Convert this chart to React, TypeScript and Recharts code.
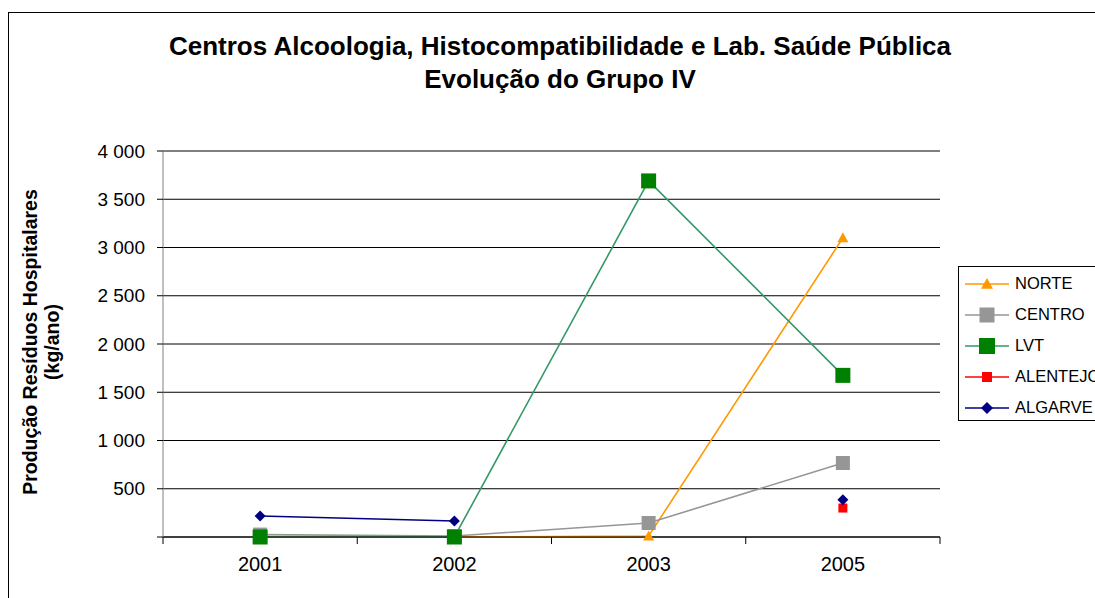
import React from 'react'
import { LineChart, Line, XAxis, YAxis, CartesianGrid } from 'recharts'

const years = ['2001', '2002', '2003', '2005']
const norte = [0, 0, 10, 3100]
const centro = [25, 10, 145, 767]
const lvt = [0, 0, 3690, 1675]
const alentejo = [null, null, null, 300]
const algarve = [218, 166, null, 385]
const yTicks = [0, 500, 1000, 1500, 2000, 2500, 3000, 3500, 4000]

const data = years.map((year, i) => ({
  year,
  norte: norte[i],
  centro: centro[i],
  lvt: lvt[i],
  alentejo: alentejo[i],
  algarve: algarve[i],
}))

const FONT = '"Liberation Sans", Arial, sans-serif'
const PLOT_W = 777
const BAND = PLOT_W / years.length

const series = [
  { key: 'norte', name: 'NORTE', line: '#FF9900', fill: '#FF9900', shape: 'triangle', size: 11 },
  { key: 'centro', name: 'CENTRO', line: '#969696', fill: '#969696', shape: 'square', size: 14 },
  { key: 'lvt', name: 'LVT', line: '#339966', fill: '#008000', shape: 'square', size: 15 },
  { key: 'alentejo', name: 'ALENTEJO', line: '#FF0000', fill: '#FF0000', shape: 'square', size: 9 },
  { key: 'algarve', name: 'ALGARVE', line: '#000080', fill: '#000080', shape: 'diamond', size: 11 },
]

function Marker({ cx, cy, shape, size, fill }: any) {
  if (cx == null || cy == null) return null
  const h = size / 2
  if (shape === 'triangle') {
    return <polygon points={`${cx},${cy - h} ${cx + h},${cy + h * 0.8} ${cx - h},${cy + h * 0.8}`} fill={fill} />
  }
  if (shape === 'diamond') {
    return <polygon points={`${cx},${cy - h} ${cx + h},${cy} ${cx},${cy + h} ${cx - h},${cy}`} fill={fill} />
  }
  return <rect x={cx - h} y={cy - h} width={size} height={size} fill={fill} />
}

const fmt = (v: number) => (v === 0 ? '' : v >= 1000 ? `${Math.floor(v / 1000)} ${String(v % 1000).padStart(3, '0')}` : String(v))

function YearTick({ x, y, payload, index }: any) {
  const half = BAND / 2
  return (
    <g>
      <line x1={x - half} x2={x - half} y1={y} y2={y + 7} stroke="#000" />
      {index === years.length - 1 && <line x1={x + half} x2={x + half} y1={y} y2={y + 7} stroke="#000" />}
      <text x={x} y={y + 34} textAnchor="middle" fontFamily={FONT} fontSize={20} fill="#000">
        {payload.value}
      </text>
    </g>
  )
}

function LegendIcon({ s }: any) {
  return (
    <svg width={48} height={20} style={{ display: 'block' }}>
      <line x1={2} x2={46} y1={10} y2={10} stroke={s.line} strokeWidth={1.5} />
      <Marker cx={24} cy={10} shape={s.shape} size={s.shape === 'square' ? Math.min(s.size + 1, 16) : s.size + 1} fill={s.fill} />
    </svg>
  )
}

export default function App() {
  return (
    <div style={{ position: 'absolute', left: 0, top: 0, width: 1095, height: 598, overflow: 'hidden', background: '#fff' }}>
      <div style={{ position: 'absolute', left: 8, top: 12, width: 1200, height: 700, border: '1px solid #000' }} />
      <div
        style={{
          position: 'absolute',
          left: 0,
          top: 30,
          width: 1120,
          textAlign: 'center',
          fontFamily: FONT,
          fontWeight: 'bold',
          fontSize: 26,
          lineHeight: '33px',
        }}
      >
        <div>Centros Alcoologia, Histocompatibilidade e Lab. Saúde Pública</div>
        <div>Evolução do Grupo IV</div>
      </div>
      <div
        style={{
          position: 'absolute',
          left: 41,
          top: 342,
          transform: 'translate(-50%, -50%) rotate(-90deg)',
          whiteSpace: 'nowrap',
          textAlign: 'center',
          fontFamily: FONT,
          fontWeight: 'bold',
          fontSize: 19.5,
          lineHeight: '22px',
        }}
      >
        <div>Produção Resíduos Hospitalares</div>
        <div>(kg/ano)</div>
      </div>
      <div style={{ position: 'absolute', left: 0, top: 0 }}>
        <LineChart width={1095} height={598} data={data} margin={{ top: 151, right: 155, bottom: 31, left: 103 }}>
          <CartesianGrid horizontal vertical={false} stroke="#000" strokeWidth={1} />
          <XAxis
            dataKey="year"
            scale="band"
            height={30}
            axisLine={{ stroke: '#000' }}
            tickLine={false}
            tickSize={0}
            tickMargin={0}
            tick={<YearTick />}
            interval={0}
          />
          <XAxis xAxisId="top" dataKey="year" scale="band" orientation="top" height={0} tick={false} tickLine={false} axisLine={{ stroke: '#808080' }} />
          <YAxis
            domain={[0, 4000]}
            ticks={yTicks}
            width={60}
            interval={0}
            tickFormatter={fmt}
            axisLine={{ stroke: '#808080' }}
            tickLine={{ stroke: '#000' }}
            tickSize={6}
            tickMargin={12}
            tick={{ fontFamily: FONT, fontSize: 19, fill: '#000' }}
          />
          <YAxis yAxisId="right" orientation="right" width={0} domain={[0, 4000]} tick={false} tickLine={false} axisLine={{ stroke: '#808080' }} />
          {series.map((s) => (
            <Line
              key={s.key}
              dataKey={s.key}
              name={s.name}
              stroke={s.line}
              strokeWidth={1.6}
              isAnimationActive={false}
              dot={(p: any) => <Marker key={`${s.key}-${p.index}`} cx={p.cx} cy={p.value == null ? null : p.cy} shape={s.shape} size={s.size} fill={s.fill} />}
              activeDot={false}
            />
          ))}
        </LineChart>
      </div>
      <div
        style={{
          position: 'absolute',
          left: 958,
          top: 266,
          width: 200,
          height: 155,
          border: '1px solid #000',
          boxSizing: 'border-box',
          background: '#fff',
          paddingTop: 1,
        }}
      >
        {series.map((s) => (
          <div key={s.key} style={{ display: 'flex', alignItems: 'center', height: 31, fontFamily: FONT, fontSize: 16.5 }}>
            <div style={{ marginLeft: 4 }}>
              <LegendIcon s={s} />
            </div>
            <span style={{ marginLeft: 4 }}>{s.name}</span>
          </div>
        ))}
      </div>
    </div>
  )
}
